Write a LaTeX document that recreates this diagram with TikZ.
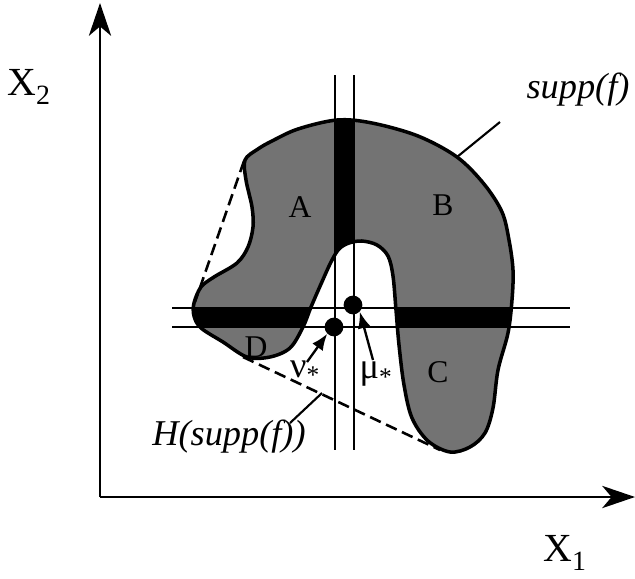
\documentclass[tikz,border=0pt]{standalone}
\usepackage{fontspec}
\setmainfont{Liberation Serif}
\usepackage{tikz}
\usetikzlibrary{arrows.meta}

% outline of the support, in picture units
\newcommand{\suppregion}{plot[smooth cycle,tension=0.55] coordinates {
  (194,303) (201,287) (214,277) (237,263) (248,247) (253,227) (252,207)
  (246,180) (245,160) (258,149) (272,141) (298,129) (337,120) (372,123)
  (418,136) (457,157) (484,184) (502,212) (509,240) (513,270) (512,300)
  (508,333) (498,370) (493,408) (485,433) (470,447) (450,452) (428,441)
  (412,418) (404,385) (399,345) (396,310) (393,276) (388,256) (377,245)
  (362,241) (349,243) (339,249) (331,262) (321,284) (311,307) (303,327)
  (290,348) (270,357) (247,357) (223,342) (201,328) (194,316)}}

\tikzset{
  axis/.style={line width=2pt,-{Stealth[length=28pt,width=19pt,inset=8pt]}},
  guide/.style={line width=1.2pt},
  hull/.style={line width=2.2pt,dash pattern=on 10pt off 5pt},
  pointer/.style={line width=2pt,-{Latex[length=14pt,width=11pt]}},
  leader/.style={line width=1.8pt},
  region/.style={fill=black!55},
  lbl/.style={inner sep=0pt,font=\fontsize{27}{30}\selectfont},
  greek/.style={inner sep=0pt,font=\fontsize{31}{34}\selectfont},
  ax/.style={inner sep=0pt,font=\fontsize{34}{38}\selectfont},
  itl/.style={inner sep=0pt,font=\fontsize{31}{34}\selectfont\itshape}
}

\begin{document}
\begin{tikzpicture}[x=0.03cm,y=-0.03cm]
\useasboundingbox (0,0) rectangle (635,578);

% axes
\coordinate (origin) at (100,497);
\coordinate (ytop) at (100,3);
\coordinate (xend) at (635,497);
\draw[axis] (origin) -- (ytop);
\draw[axis] (origin) -- (xend);
\node[ax] (xtwo) at (29,87) {X\textsubscript{2}};
\node[ax] (xone) at (565,553) {X\textsubscript{1}};

% the support and its cuts
\fill[region] \suppregion;
\begin{scope}
  \clip \suppregion;
  \fill (170,308) rectangle (570,327);
  \fill (335,60) rectangle (354,250);
\end{scope}
\draw[line width=3pt] \suppregion;

% lines through the two points
\draw[guide] (335,75) -- (335,450);
\draw[guide] (354,75) -- (354,450);
\draw[guide] (172,308) -- (570,308);
\draw[guide] (172,327) -- (570,327);

% hull edges
\coordinate (hulltop) at (244,161);
\coordinate (hullleft) at (195,302);
\coordinate (hulllow) at (243,357);
\coordinate (hullend) at (440,450);
\draw[hull] (hulltop) -- (hullleft);
\draw[hull] (hulllow) -- (hullend);

% part labels
\node[lbl] (partA) at (300,207) {A};
\node[lbl] (partB) at (443,205) {B};
\node[lbl] (partC) at (438,372) {C};
\node[lbl] (partD) at (256,347) {D};

% the two points
\node[circle,fill,inner sep=0pt,minimum size=16pt] (mu) at (353,305) {};
\node[circle,fill,inner sep=0pt,minimum size=16pt] (nu) at (334,327) {};
\node[greek] (nulabel) at (305,372) {ν\textsubscript{*}};
\node[greek] (mulabel) at (376,374) {μ\textsubscript{*}};
\coordinate (nutail) at (307,362);
\coordinate (mutail) at (373,360);
\draw[pointer] (nutail) -- (nu.south west);
\draw[pointer] (mutail) -- (mu.south east);

% names of the sets
\node[itl] (supplabel) at (578,90) {supp(f)};
\node[itl] (hulllabel) at (229,437) {H(supp(f))};
\coordinate (suppfoot) at (457,157);
\coordinate (suppknee) at (500,122);
\draw[leader] (suppfoot) -- (suppknee);
\coordinate (hullfoot) at (322,393);
\coordinate (hullknee) at (290,423);
\draw[leader] (hullfoot) -- (hullknee);
\end{tikzpicture}
\end{document}
